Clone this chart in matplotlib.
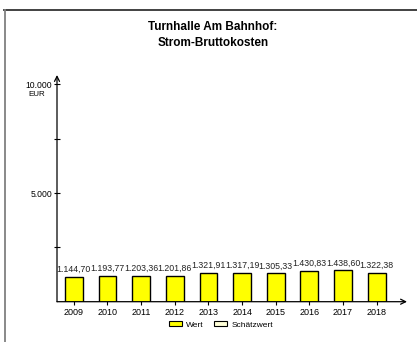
import matplotlib
matplotlib.use("Agg")
import matplotlib.pyplot as plt
from matplotlib.lines import Line2D
from matplotlib.patches import Patch
from matplotlib.transforms import blended_transform_factory

plt.rcParams['font.family'] = ['Liberation Sans', 'DejaVu Sans']

years = ["2009", "2010", "2011", "2012", "2013", "2014", "2015", "2016", "2017", "2018"]
values = [1144.70, 1193.77, 1203.36, 1201.86, 1321.91, 1317.19, 1305.33, 1430.83, 1438.60, 1322.38]
yticks = [2500, 5000, 7500, 10000]
ytick_labels = ["", "5.000", "", "10.000"]
unit_label = "EUR"
title = "Turnhalle Am Bahnhof:\nStrom-Bruttokosten"
legend_labels = ["Wert", "Schätzwert"]


def de_fmt(v):
    s = f"{v:,.2f}"
    return s.replace(",", "X").replace(".", ",").replace("X", ".")


W, H = 417, 342
fig = plt.figure(figsize=(W / 100, H / 100), dpi=100)

# frame lines (top dark, left gray)
fig.add_artist(Line2D([4 / W, 1.0], [1 - 9.5 / H, 1 - 9.5 / H], color="#333333", lw=1.3, transform=fig.transFigure))
fig.add_artist(Line2D([4.5 / W, 4.5 / W], [0, 1 - 9.5 / H], color="#808080", lw=1.3, transform=fig.transFigure))

left, right = 57 / W, 407 / W
bottom, top = (H - 301.7) / H, (H - 75) / H
ax = fig.add_axes([left, bottom, right - left, top - bottom])
xmin, xmax = -0.5, 9.9
ymax = 10430
ax.set_xlim(xmin, xmax)
ax.set_ylim(0, ymax)
for s in ax.spines.values():
    s.set_visible(False)

x = list(range(len(years)))
ax.bar(x, values, width=0.53, color="#ffff00", edgecolor="black", linewidth=1.0, zorder=3)
for xi, v in zip(x, values):
    ax.annotate(de_fmt(v), (xi, v), xytext=(0, 2), textcoords="offset points",
                ha="center", va="bottom", fontsize=6.3, color="#222222", zorder=4)

# axes with arrows
ax.annotate("", xy=(xmax, 0), xytext=(xmin, 0),
            arrowprops=dict(arrowstyle="->", lw=0.9, color="black", shrinkA=0, shrinkB=0,
                            mutation_scale=9), annotation_clip=False)
ax.annotate("", xy=(xmin, ymax), xytext=(xmin, 0),
            arrowprops=dict(arrowstyle="->", lw=0.9, color="black", shrinkA=0, shrinkB=0,
                            mutation_scale=9), annotation_clip=False)

ax.set_xticks(x)
ax.set_xticklabels(years, fontsize=6.5)
ax.set_yticks(yticks)
ax.set_yticklabels(ytick_labels, fontsize=6.2)
ax.tick_params(axis="y", direction="inout", length=5, width=0.8, pad=1)
ax.tick_params(axis="x", direction="inout", length=5, width=0.8, pad=2)

trans = blended_transform_factory(fig.transFigure, ax.transData)
ax.annotate(unit_label, (37 / W, 10000), xycoords=trans, xytext=(0, -4.8), textcoords="offset points",
            ha="center", va="top", fontsize=5.8, annotation_clip=False)

fig.text(213 / W, 1 - 20.5 / H, title, ha="center", va="top", fontsize=8.5,
         fontweight="bold", linespacing=1.5)

handles = [Patch(facecolor="#ffff00", edgecolor="black", linewidth=0.8),
           Patch(facecolor="#ffffd8", edgecolor="black", linewidth=0.8)]
fig.legend(handles, legend_labels, loc="center", bbox_to_anchor=(221 / W, 1 - 325 / H), ncol=2,
           frameon=False, fontsize=6, handlelength=1.6, handleheight=0.5, columnspacing=1.2,
           handletextpad=0.5)

fig.savefig("out.png", dpi=100, facecolor="white")
